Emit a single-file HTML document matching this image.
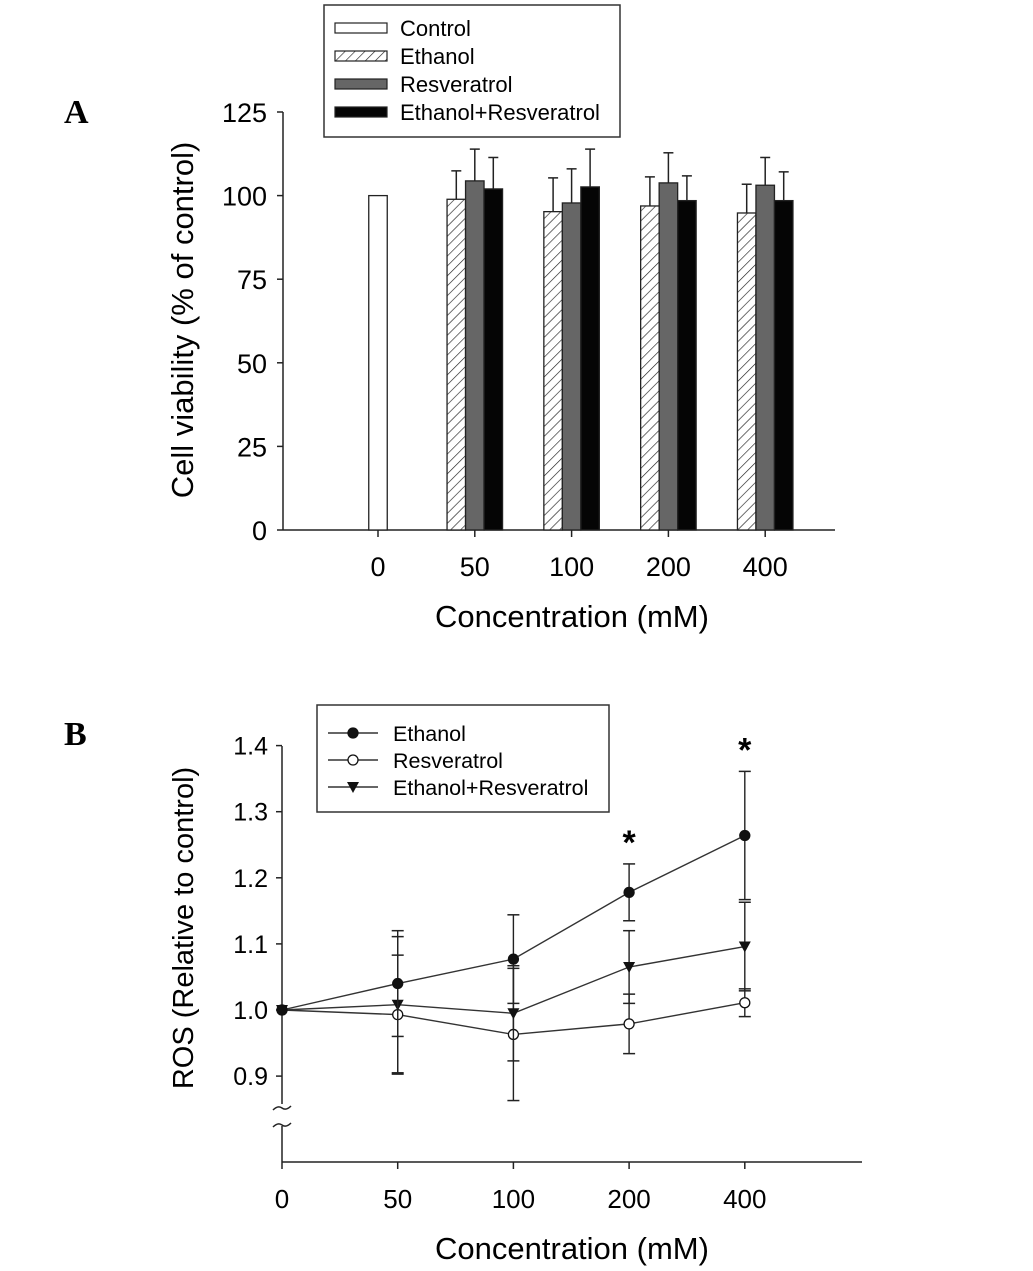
<!DOCTYPE html>
<html><head><meta charset="utf-8"><style>
html,body{margin:0;padding:0;background:#fff;}
svg{display:block;font-family:"Liberation Sans",Arial,sans-serif;}
</style></head><body>
<svg id="fig" width="1033" height="1271" viewBox="0 0 1033 1271">
<defs>
<pattern id="hatch" patternUnits="userSpaceOnUse" width="7" height="7" patternTransform="rotate(45)">
<rect width="7" height="7" fill="#fff"/><line x1="0" y1="0" x2="0" y2="7" stroke="#222" stroke-width="1.3"/>
</pattern>
</defs>
<text x="64" y="123" font-family="Liberation Serif,serif" font-weight="bold" font-size="34">A</text>
<text x="64" y="745" font-family="Liberation Serif,serif" font-weight="bold" font-size="34">B</text>
<g id="ga"></g>
<g id="gb"></g>
</svg>
<script>
const NS='http://www.w3.org/2000/svg';
function mk(parent,tag,attrs,text){const e=document.createElementNS(NS,tag);for(const k in attrs)e.setAttribute(k,attrs[k]);if(text!==undefined)e.textContent=text;parent.appendChild(e);return e;}

// ---- Panel A data ----
const catsA=['0','50','100','200','400'];
const controlVal=[100];
const ethVals=[98.9,95.2,96.9,94.8];
const ethErr=[8.5,10.1,8.7,8.6];
const resVals=[104.4,97.8,103.8,103.1];
const resErr=[9.5,10.2,9.0,8.3];
const erVals=[102.0,102.6,98.5,98.5];
const erErr=[9.4,11.3,7.4,8.6];
const yTicksA=[0,25,50,75,100,125];

// ---- Panel B data ----
const catsB=['0','50','100','200','400'];
const ethB=[1.0,1.040,1.077,1.178,1.264];
const ethBErr=[0,0.08,0.067,0.043,0.097];
const resB=[1.0,0.993,0.963,0.979,1.011];
const resBErr=[0,0.09,0.1,0.045,0.021];
const erB=[1.0,1.008,0.995,1.065,1.096];
const erBErr=[0,0.103,0.072,0.055,0.067];
const yTicksB=[0.9,1.0,1.1,1.2,1.3,1.4];
const starIdx=[3,4];

// ===== Panel A =====
(function(){
const g=document.getElementById('ga');
const X0=283,X1=835,Y0=530,Y1=112;
const y=v=>Y0-(v/125)*(Y0-Y1);
const xc=i=>378+i*96.8;
const bw=18.5;
mk(g,'line',{x1:X0,y1:Y1,x2:X0,y2:Y0,stroke:'#222','stroke-width':1.5});
mk(g,'line',{x1:X0,y1:Y0,x2:X1,y2:Y0,stroke:'#222','stroke-width':1.5});
yTicksA.forEach(t=>{
 mk(g,'line',{x1:X0-6,y1:y(t),x2:X0,y2:y(t),stroke:'#222','stroke-width':1.5});
 const tx=mk(g,'text',{x:X0-16,y:y(t)+10,'text-anchor':'end','font-size':27},String(t));
 
 
});
catsA.forEach((c,i)=>{
 mk(g,'line',{x1:xc(i),y1:Y0,x2:xc(i),y2:Y0+7,stroke:'#222','stroke-width':1.5});
 const tx=mk(g,'text',{x:xc(i),y:576,'text-anchor':'middle','font-size':27},c);
 
 
});
const cb=mk(g,'rect',{x:xc(0)-bw/2,y:y(controlVal[0]),width:bw,height:Y0-y(controlVal[0]),fill:'#fff',stroke:'#222','stroke-width':1.3});


const series=[[ethVals,ethErr,'url(#hatch)','ethanol'],[resVals,resErr,'#666','resveratrol'],[erVals,erErr,'#050505','ethanol-resveratrol']];
for(let i=0;i<4;i++){
 series.forEach((s,k)=>{
  const cx=xc(i+1)+(k-1)*bw;
  const v=s[0][i],e=s[1][i];
  const r=mk(g,'rect',{x:cx-bw/2,y:y(v),width:bw,height:Y0-y(v),fill:s[2],stroke:'#222','stroke-width':1.3});
  
  
  mk(g,'line',{x1:cx,y1:y(v),x2:cx,y2:y(v+e),stroke:'#222','stroke-width':1.5});
  mk(g,'line',{x1:cx-5,y1:y(v+e),x2:cx+5,y2:y(v+e),stroke:'#222','stroke-width':1.5});
 });
}
const yt=mk(g,'text',{x:0,y:0,transform:'translate(193,320) rotate(-90)','text-anchor':'middle','font-size':31},'Cell viability (% of control)');


const xt=mk(g,'text',{x:572,y:627,'text-anchor':'middle','font-size':31},'Concentration (mM)');


const lg=mk(g,'g',{});


mk(lg,'rect',{x:324,y:5,width:296,height:132,fill:'#fff',stroke:'#333','stroke-width':1.5});
const le=[['Control','#fff'],['Ethanol','url(#hatch)'],['Resveratrol','#666'],['Ethanol+Resveratrol','#050505']];
le.forEach((l,k)=>{
 const yy=28+k*28;
 mk(lg,'rect',{x:335,y:yy-5,width:52,height:10,fill:l[1],stroke:'#222','stroke-width':1.2});
 const t=mk(lg,'text',{x:400,y:yy+8,'font-size':22},l[0]);
 
 
});
})();

// ===== Panel B =====
(function(){
const g=document.getElementById('gb');
const X0=282,X1=862,Y0=1162;
const y=v=>1010-(v-1.0)*661;
const xc=i=>282+i*115.7;
mk(g,'line',{x1:X0,y1:746,x2:X0,y2:1104,stroke:'#222','stroke-width':1.5});
mk(g,'line',{x1:X0,y1:1126,x2:X0,y2:Y0,stroke:'#222','stroke-width':1.5});
mk(g,'path',{d:'M273,1110 q5,-5 9,-2 q4,3 9,-2',fill:'none',stroke:'#222','stroke-width':1.5});
mk(g,'path',{d:'M273,1127 q5,-5 9,-2 q4,3 9,-2',fill:'none',stroke:'#222','stroke-width':1.5});
mk(g,'line',{x1:X0,y1:Y0,x2:X1,y2:Y0,stroke:'#222','stroke-width':1.5});
yTicksB.forEach(t=>{
 mk(g,'line',{x1:X0-6,y1:y(t),x2:X0,y2:y(t),stroke:'#222','stroke-width':1.5});
 const tx=mk(g,'text',{x:X0-14,y:y(t)+9,'text-anchor':'end','font-size':25},t.toFixed(1));
 
 
});
catsB.forEach((c,i)=>{
 mk(g,'line',{x1:xc(i),y1:Y0,x2:xc(i),y2:Y0+7,stroke:'#222','stroke-width':1.5});
 const tx=mk(g,'text',{x:xc(i),y:1208,'text-anchor':'middle','font-size':26},c);
 
 
});
const ser=[[resB,resBErr,'circle-open','resveratrol'],[erB,erBErr,'tri','ethanol-resveratrol'],[ethB,ethBErr,'circle','ethanol']];
ser.forEach(s=>{
 s[0].forEach((v,i)=>{ if(!s[1][i])return; const cx=xc(i);
  mk(g,'line',{x1:cx,y1:y(v+s[1][i]),x2:cx,y2:y(v-s[1][i]),stroke:'#222','stroke-width':1.4});
  [v+s[1][i],v-s[1][i]].forEach(w=>mk(g,'line',{x1:cx-6,y1:y(w),x2:cx+6,y2:y(w),stroke:'#222','stroke-width':1.5}));
 });
 const pts=s[0].map((v,i)=>xc(i)+','+y(v)).join(' ');
 const pl=mk(g,'polyline',{points:pts,fill:'none',stroke:'#333','stroke-width':1.4});
 
 
 s[0].forEach((v,i)=>{
  const cx=xc(i),cy=y(v);let m;
  if(s[2]==='tri') m=mk(g,'path',{d:`M${cx-6},${cy-5} L${cx+6},${cy-5} L${cx},${cy+6} Z`,fill:'#111'});
  else m=mk(g,'circle',{cx:cx,cy:cy,r:5,fill:s[2]==='circle'?'#111':'#fff',stroke:'#111','stroke-width':1.3});
  
  
 });
});
starIdx.forEach(i=>{
 const t=mk(g,'text',{x:xc(i),y:y(ethB[i]+ethBErr[i])-10,'text-anchor':'middle','font-size':34,'font-weight':'bold'},'*');
 
 
});
const yt=mk(g,'text',{x:0,y:0,transform:'translate(193,928) rotate(-90)','text-anchor':'middle','font-size':29},'ROS (Relative to control)');


const xt=mk(g,'text',{x:572,y:1259,'text-anchor':'middle','font-size':31},'Concentration (mM)');


const lg=mk(g,'g',{});


mk(lg,'rect',{x:317,y:705,width:292,height:107,fill:'#fff',stroke:'#333','stroke-width':1.5});
const le=[['Ethanol','circle'],['Resveratrol','open'],['Ethanol+Resveratrol','tri']];
le.forEach((l,k)=>{
 const yy=733+k*27;
 mk(lg,'line',{x1:328,y1:yy,x2:378,y2:yy,stroke:'#333','stroke-width':1.4});
 if(l[1]==='tri') mk(lg,'path',{d:`M347,${yy-5} L359,${yy-5} L353,${yy+6} Z`,fill:'#111'});
 else mk(lg,'circle',{cx:353,cy:yy,r:5,fill:l[1]==='circle'?'#111':'#fff',stroke:'#111','stroke-width':1.3});
 const t=mk(lg,'text',{x:393,y:yy+8,'font-size':21.5},l[0]);
 
 
});
})();
</script>
</body></html>
